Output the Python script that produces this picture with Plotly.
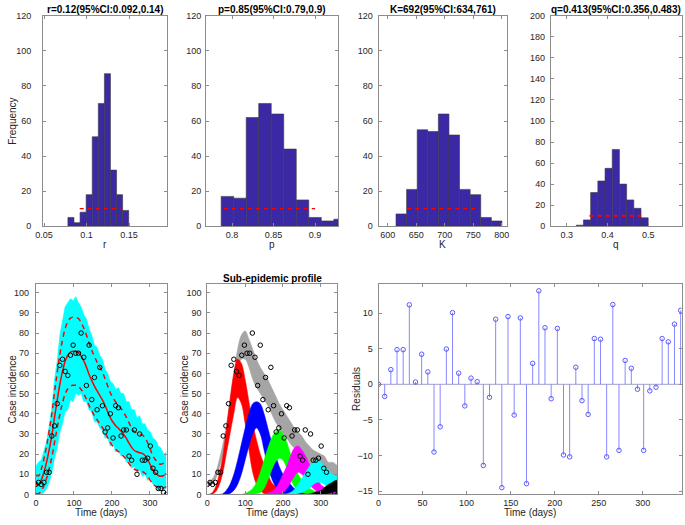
import plotly.graph_objects as go

# ---------------- data ----------------
# parameter histograms (bootstrap realisations)
r_counts = [5, 2, 8, 18, 51, 70, 87, 32, 18, 9]
r_bin_start, r_bin_width = 0.0781, 0.00715
r_ci = [0.092, 0.14]
p_counts = [17, 16, 62, 70, 64, 44, 15, 5, 3, 4]
p_bin_start, p_bin_width = 0.7869, 0.01508
p_ci = [0.79, 0.90]
K_counts = [7, 21, 55, 54, 64, 52, 21, 18, 5, 3]
K_bin_start, K_bin_width = 614.5, 18.6
K_ci = [634, 761]
q_counts = [1, 6, 32, 43, 55, 73, 40, 25, 17, 8]
q_bin_start, q_bin_width = 0.3234, 0.01766
q_ci = [0.356, 0.483]
ci_marker_level = 10

hist_titles = ["r=0.12(95%CI:0.092,0.14)", "p=0.85(95%CI:0.79,0.9)",
               "K=692(95%CI:634,761)", "q=0.413(95%CI:0.356,0.483)"]
hist_xlabels = ["r", "p", "K", "q"]

# weekly time series
days = [0, 7, 14, 21, 28, 35, 42, 49, 56, 63, 70, 77, 84, 91, 98, 105, 112, 119, 126, 133,
        140, 147, 154, 161, 168, 175, 182, 189, 196, 203, 210, 217, 224, 231, 238, 245, 252,
        259, 266, 273, 280, 287, 294, 301, 308, 315, 322, 329, 336, 343]
cases = [5, 6, 5, 6, 11, 11, 29, 34, 45, 64, 67, 61, 59, 69, 74, 70, 70, 80, 68, 54,
         74, 47, 58, 42, 63, 44, 31, 33, 40, 28, 44, 43, 29, 32, 32, 19, 17,
         32, 10, 30, 17, 17, 18, 24, 13, 11, 3, 3, 1, 0]
fit = [5.0, 4.8, 7.1, 10.9, 15.9, 22.2, 29.3, 38.2, 46.7, 54.5, 61.0, 66.0, 69.0, 70.6, 71.0,
       70.9, 70.4, 68.6, 66.2, 63.1, 59.5, 56.5, 53.7, 51.3, 49.1, 46.9, 44.1, 40.9, 38.0,
       35.8, 34.1, 32.8, 31.4, 29.7, 27.8, 25.4, 23.3, 21.8, 21.2, 20.7, 20.4, 19.3, 17.3,
       14.7, 12.1, 10.6, 9.4, 9.0, 9.4, 10.4]
pi_upper = [9.5, 9.3, 12.4, 17.5, 23.9, 31.6, 40.1, 50.6, 60.4, 69.3, 76.6, 82.2, 85.6, 87.4,
            87.9, 87.7, 87.2, 85.2, 82.5, 79.0, 74.9, 71.5, 68.4, 65.6, 63.1, 60.6, 57.4, 53.7,
            50.3, 47.8, 45.8, 44.3, 42.6, 40.6, 38.3, 35.5, 33.0, 31.1, 30.4, 29.8, 29.4, 28.1,
            25.6, 22.4, 19.1, 17.1, 15.5, 15.0, 15.5, 16.9]
pi_lower = [0.5, 0.4, 1.8, 4.3, 7.9, 12.8, 18.5, 25.8, 33.0, 39.7, 45.4, 49.8, 52.4, 53.8,
            54.1, 54.1, 53.6, 52.0, 49.9, 47.2, 44.1, 41.5, 39.0, 37.0, 35.1, 33.2, 30.8, 28.1,
            25.7, 23.8, 22.4, 21.3, 20.2, 18.8, 17.3, 15.3, 13.6, 12.5, 12.0, 11.6, 11.4, 10.5,
            9.0, 7.0, 5.1, 4.1, 3.3, 3.0, 3.3, 3.9]
ens_upper = [14, 16, 17, 22, 26, 34, 43, 57, 66, 79, 86, 93, 95, 97, 96, 98, 95, 93, 89, 87,
             82, 79, 74, 73, 69, 67, 62, 60, 56, 55, 52, 53, 50, 50, 46, 46, 42, 42, 38, 39,
             35, 35, 32, 31, 28, 27, 24, 23, 20, 21]
ens_lower = [0, 0, 0, 1, 3, 6, 11, 18, 23, 31, 35, 41, 42, 47, 46, 50, 49, 50, 46, 46,
             42, 41, 36, 36, 33, 32, 28, 28, 24, 25, 21, 22, 19, 20, 16, 16, 13, 14, 11, 12,
             9, 10, 7, 8, 5, 4, 2, 3, 2, 3]
residuals = [0, -1.7, 2.06, 4.86, 4.86, 11.15, 0.32, 4.22, 1.74, -9.5, -5.96, 4.95, 10.05,
             1.56, -3.03, 0.87, 0.37, -11.38, -1.83, 9.13, -14.5, 9.5, -4.31, 9.31, -13.94,
             2.94, 13.12, 7.94, -2.02, 7.84, -9.91, -10.18, 2.39, -2.29, -4.22, 6.42, 6.33,
             -10.18, 11.19, -9.27, 3.35, 2.25, -0.69, -9.27, -0.92, -0.41, 6.42, 5.96, 8.44,
             10.37]

# sub-epidemic ensemble envelopes (every 10 days)
sub_days = [0, 10, 20, 30, 40, 50, 60, 70, 80, 90, 100, 110, 120, 130, 140, 150, 160, 170,
            180, 190, 200, 210, 220, 230, 240, 250, 260, 270, 280, 290, 300, 310, 320, 330,
            340, 344]
total_lo = [4, 5, 7, 12, 19, 28, 40, 52, 62, 67, 67, 63, 57, 53, 50, 47, 44, 40, 36, 33, 30,
            28, 25, 23, 21, 19, 17, 15, 13, 12, 10, 8, 4, 2, 1, 1]
total_hi = [6, 7, 10, 16, 24, 34, 47, 60, 72, 79, 81, 77, 72, 67, 63, 60, 57, 53, 49, 45, 42,
            39, 36, 33, 31, 29, 26, 24, 22, 21, 20, 19, 16, 16, 15, 14]
sub1_lo = [0, 0, 1, 4, 10, 20, 30, 40, 48, 45, 35, 22, 11, 5, 2, 0.5, 0, 0, 0, 0, 0, 0, 0, 0,
           0, 0, 0, 0, 0, 0, 0, 0, 0, 0, 0, 0]
sub1_hi = [0, 0.5, 3, 9, 18, 32, 47, 60, 67, 65, 57, 46, 35, 27, 20, 15, 10, 6, 4, 2.5, 1.5,
           1, 0.6, 0.4, 0.3, 0.2, 0.1, 0, 0, 0, 0, 0, 0, 0, 0, 0]
sub2_lo = [0, 0, 0, 0, 0, 0, 0.5, 2, 5, 10, 17, 24, 30, 33, 30, 22, 14, 8, 4, 2, 1, 0.5, 0,
           0, 0, 0, 0, 0, 0, 0, 0, 0, 0, 0, 0, 0]
sub2_hi = [0, 0, 0, 0, 0.3, 2, 5, 10, 17, 25, 33, 40, 45, 46, 45, 40, 33, 26, 20, 14, 10, 7,
           5, 3, 2, 1.5, 1, 0.5, 0.3, 0.2, 0, 0, 0, 0, 0, 0]
sub3_lo = [0, 0, 0, 0, 0, 0, 0, 0, 0, 0, 0, 0, 0, 0.5, 1, 3, 7, 12, 16, 18, 17, 13, 8, 4, 2,
           1, 0.5, 0, 0, 0, 0, 0, 0, 0, 0, 0]
sub3_hi = [0, 0, 0, 0, 0, 0, 0, 0, 0, 0, 0.5, 1.5, 3, 6, 11, 17, 23, 28, 31, 32, 30, 26, 20,
           15, 10, 7, 5, 3, 2, 1, 0.5, 0.3, 0.3, 0.2, 0.2, 0.2]
sub4_lo = [0, 0, 0, 0, 0, 0, 0, 0, 0, 0, 0, 0, 0, 0, 0, 0, 0, 0, 0, 0.5, 1, 3, 6, 9, 11, 10,
           8, 5, 3, 1.5, 0.5, 0, 0, 0, 0, 0]
sub4_hi = [0, 0, 0, 0, 0, 0, 0, 0, 0, 0, 0, 0, 0, 0, 0, 0.3, 0.8, 1.5, 3, 6, 10, 14, 19, 23,
           24, 22, 19, 15, 11, 8, 5, 3.5, 2, 1.5, 1, 1]
sub5_lo = [0, 0, 0, 0, 0, 0, 0, 0, 0, 0, 0, 0, 0, 0, 0, 0, 0, 0, 0, 0, 0, 0, 0, 0, 0.5, 1, 2,
           3, 5, 6, 6, 5, 3, 2, 1, 1]
sub5_hi = [0, 0, 0, 0, 0, 0, 0, 0, 0, 0, 0, 0, 0, 0, 0, 0, 0, 0, 0, 0, 0, 0.3, 1, 2.5, 5, 8,
           11, 14, 16, 17, 16, 14, 12, 10, 9, 9]
sub6_lo = [0, 0, 0, 0, 0, 0, 0, 0, 0, 0, 0, 0, 0, 0, 0, 0, 0, 0, 0, 0, 0, 0, 0, 0, 0, 0, 0,
           0, 0, 0, 0, 0, 0.5, 1, 1.5, 1.5]
sub6_hi = [0, 0, 0, 0, 0, 0, 0, 0, 0, 0, 0, 0, 0, 0, 0, 0, 0, 0, 0, 0, 0, 0, 0, 0, 0, 0, 0,
           0.3, 0.8, 1.5, 2, 3.5, 5, 6, 7, 7]

# ---------------- styling ----------------
W, H = 685, 525
FONT = "Liberation Sans, Arial, Helvetica, sans-serif"
TXT = "#262626"
AXC = "#8c8c8c"
BAR = "rgb(58,40,165)"

def px_x(a, b):
    return [a / W, b / W]

def px_y(top, bot):
    return [1 - bot / H, 1 - top / H]

fig = go.Figure()

TOP = (11, 225.5)
BOT = (284, 499)
panels = {
    1: (px_x(35.5, 161), px_y(*TOP)),
    2: (px_x(201, 335), px_y(*TOP)),
    3: (px_x(376, 506), px_y(*TOP)),
    4: (px_x(551, 684), px_y(*TOP)),
    5: (px_x(28.3, 161), px_y(*BOT)),
    6: (px_x(202.3, 334.3), px_y(*BOT)),
    7: (px_x(376, 683.5), px_y(*BOT)),
}

def axref(i):
    return ("x" if i == 1 else f"x{i}"), ("y" if i == 1 else f"y{i}")

# ---- histograms ----
hist_sets = [
    (r_counts, r_bin_start, r_bin_width, r_ci),
    (p_counts, p_bin_start, p_bin_width, p_ci),
    (K_counts, K_bin_start, K_bin_width, K_ci),
    (q_counts, q_bin_start, q_bin_width, q_ci),
]
for i, (cnts, b0, bw, ci) in enumerate(hist_sets, start=1):
    xa, ya = axref(i)
    centers = [b0 + bw * (k + 0.5) for k in range(len(cnts))]
    fig.add_trace(go.Bar(x=centers, y=cnts, width=[bw] * len(cnts), xaxis=xa, yaxis=ya,
                         marker=dict(color=BAR, line=dict(color="#3a3a3a", width=0.6)),
                         showlegend=False))
    fig.add_trace(go.Scatter(x=ci, y=[ci_marker_level] * 2, mode="lines", xaxis=xa, yaxis=ya,
                             line=dict(color="red", width=2 if i == 4 else 1.2, dash="4px,4px"),
                             showlegend=False))

# ---- panel 5: fit with ensemble ----
xa, ya = axref(5)
fig.add_trace(go.Scatter(x=days, y=ens_lower, mode="lines", line=dict(width=0.6, color="cyan"),
                         xaxis=xa, yaxis=ya, showlegend=False))
fig.add_trace(go.Scatter(x=days, y=ens_upper, mode="lines", line=dict(width=0.6, color="cyan"),
                         fill="tonexty", fillcolor="cyan", xaxis=xa, yaxis=ya, showlegend=False))
for arr in (pi_upper, pi_lower):
    fig.add_trace(go.Scatter(x=days, y=arr, mode="lines", line_shape="spline",
                             line=dict(color="red", width=1.5, dash="5px,4px"),
                             xaxis=xa, yaxis=ya, showlegend=False))
fig.add_trace(go.Scatter(x=days, y=fit, mode="lines", line_shape="spline",
                         line=dict(color="red", width=1.5), xaxis=xa, yaxis=ya, showlegend=False))
fig.add_trace(go.Scatter(x=days, y=cases, mode="markers", xaxis=xa, yaxis=ya, showlegend=False,
                         marker=dict(symbol="circle-open", size=4.5, color="black",
                                     line=dict(width=1, color="black"))))

# ---- panel 6: sub-epidemic profile ----
xa, ya = axref(6)
bands = [
    (total_lo, total_hi, "rgb(165,165,165)"),
    (sub1_lo, sub1_hi, "rgb(255,0,0)"),
    (sub2_lo, sub2_hi, "rgb(0,0,255)"),
    (sub3_lo, sub3_hi, "rgb(0,255,0)"),
    (sub4_lo, sub4_hi, "rgb(255,0,255)"),
    (sub5_lo, sub5_hi, "rgb(0,255,255)"),
    (sub6_lo, sub6_hi, "rgb(0,0,0)"),
]
for lo, hi, col in bands:
    fig.add_trace(go.Scatter(x=sub_days, y=lo, mode="lines", line_shape="spline",
                             line=dict(width=0.5, color=col), xaxis=xa, yaxis=ya,
                             showlegend=False))
    fig.add_trace(go.Scatter(x=sub_days, y=hi, mode="lines", line_shape="spline",
                             line=dict(width=0.5, color=col), fill="tonexty", fillcolor=col,
                             xaxis=xa, yaxis=ya, showlegend=False))
fig.add_trace(go.Scatter(x=days, y=cases, mode="markers", xaxis=xa, yaxis=ya, showlegend=False,
                         marker=dict(symbol="circle-open", size=4.5, color="black",
                                     line=dict(width=1, color="black"))))

# ---- panel 7: residual stem plot ----
xa, ya = axref(7)
sx, sy = [], []
for d, r in zip(days, residuals):
    sx += [d, d, None]
    sy += [0, r, None]
fig.add_trace(go.Scatter(x=[0, 344], y=[0, 0], mode="lines", line=dict(color="#a0a0c8", width=1),
                         xaxis=xa, yaxis=ya, showlegend=False))
fig.add_trace(go.Scatter(x=sx, y=sy, mode="lines", line=dict(color="rgb(135,135,255)", width=1),
                         xaxis=xa, yaxis=ya, showlegend=False))
fig.add_trace(go.Scatter(x=days, y=residuals, mode="markers", xaxis=xa, yaxis=ya,
                         showlegend=False,
                         marker=dict(symbol="circle-open", size=4.5, color="rgb(90,90,255)",
                                     line=dict(width=1, color="rgb(90,90,255)"))))

# ---------------- axes ----------------
base = dict(showline=True, linecolor=AXC, linewidth=1, mirror="ticks", ticks="inside",
            ticklen=3, tickcolor=AXC, showgrid=False, zeroline=False,
            tickfont=dict(family=FONT, size=9, color=TXT))

xranges = {1: [0.0488, 0.1942], 2: [0.7687, 0.9278], 3: [583.8, 808.7], 4: [0.2613, 0.583],
           5: [0, 344], 6: [0, 344], 7: [0, 344]}
xticks = {1: ([0.05, 0.1, 0.15], ["0.05", "0.1", "0.15"]),
          2: ([0.8, 0.85, 0.9], ["0.8", "0.85", "0.9"]),
          3: ([600, 650, 700, 750, 800], None),
          4: ([0.3, 0.4, 0.5], ["0.3", "0.4", "0.5"]),
          5: ([0, 100, 200, 300], None), 6: ([0, 100, 200, 300], None),
          7: ([0, 50, 100, 150, 200, 250, 300], None)}
yranges = {1: [0, 120], 2: [0, 120], 3: [0, 120], 4: [0, 200],
           5: [0, 104.5], 6: [0, 104.5], 7: [-15.46, 14.13]}
ydt = {1: 20, 2: 20, 3: 20, 4: 20, 5: 10, 6: 10, 7: 5}
ystand = {1: 9, 2: 2, 3: 3, 4: 3, 5: 4, 6: 3, 7: 3}

for i, (dx, dy) in panels.items():
    xk = "xaxis" if i == 1 else f"xaxis{i}"
    yk = "yaxis" if i == 1 else f"yaxis{i}"
    xa, ya = axref(i)
    tv, tt = xticks[i]
    xd = dict(base, domain=dx, range=xranges[i], anchor=ya, tickvals=tv)
    if tt:
        xd["ticktext"] = tt
    yd = dict(base, domain=dy, range=yranges[i], anchor=xa, dtick=ydt[i],
              tick0=-15 if i == 7 else 0, ticklabelstandoff=ystand[i])
    fig.layout[xk] = xd
    fig.layout[yk] = yd

# ---------------- text ----------------
ann = []
def add_text(x, y, text, size=10, bold=False, angle=0):
    ann.append(dict(x=x / W, y=1 - y / H, xref="paper", yref="paper", text=text,
                    showarrow=False, textangle=angle, xanchor="center", yanchor="middle",
                    font=dict(family=FONT, size=size, color="black" if bold else TXT)))

for i, t in enumerate(hist_titles, start=1):
    dx = panels[i][0]
    add_text((dx[0] + dx[1]) / 2 * W, 4.5, "<b>" + t + "</b>", size=10, bold=True)
for i, t in enumerate(hist_xlabels, start=1):
    dx = panels[i][0]
    add_text((dx[0] + dx[1]) / 2 * W, 244, t, size=10)
add_text(5, 118, "Frequency", angle=-90)
add_text(268.3, 278.5, "<b>Sub-epidemic profile</b>", size=10, bold=True)
add_text(5, 391, "Case incidence", angle=-90)
add_text(179.5, 391, "Case incidence", angle=-90)
add_text(353.5, 391, "Residuals", angle=-90)
add_text(94.5, 517, "Time (days)")
add_text(268.3, 517, "Time (days)")
add_text(529.5, 517, "Time (days)")

fig.update_layout(width=W, height=H, margin=dict(l=0, r=0, t=0, b=0),
                  paper_bgcolor="white", plot_bgcolor="white", annotations=ann,
                  bargap=0, showlegend=False, hovermode=False,
                  font=dict(family=FONT, color=TXT))

fig.write_html("out.html", config={"displayModeBar": False, "staticPlot": True},
               post_script=["document.body.style.margin='0';document.body.style.padding='0';"])
